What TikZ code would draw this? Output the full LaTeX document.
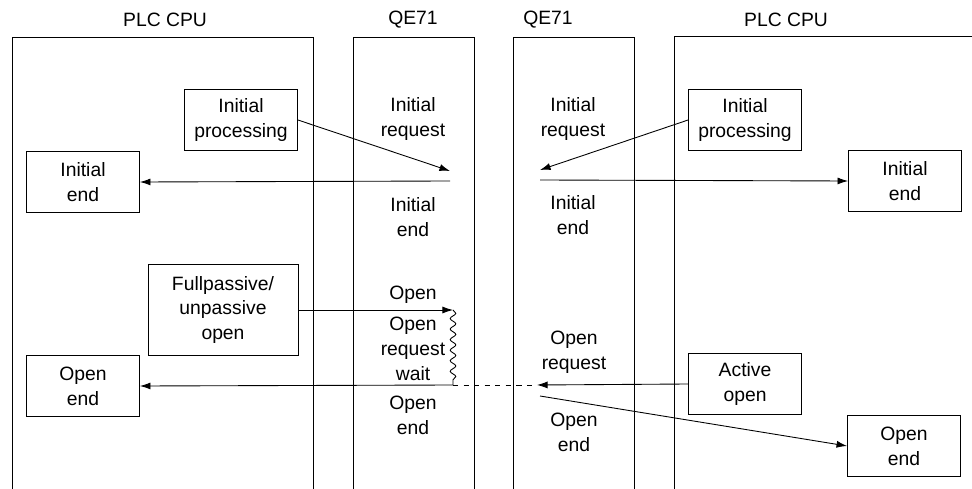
\documentclass[tikz,border=0pt]{standalone}
\usepackage{fontspec}
\setmainfont{Liberation Sans}
\usetikzlibrary{arrows.meta,calc,decorations.pathmorphing}

\begin{document}
\begin{tikzpicture}[x=0.02cm, y=-0.02cm, line width=0.5pt,
  every node/.style={font=\fontsize{11}{14.2}\selectfont, align=center},
  box/.style={draw, minimum width=2.26cm, minimum height=1.22cm, inner sep=1pt},
  lbl/.style={inner sep=0pt},
  >={Latex[length=6pt,width=4pt]}]

\useasboundingbox (0,0) rectangle (972,489);

% Corsie
\draw (12,489) -- (12,37) -- (313,37) -- (313,489);
\draw (353,489) -- (353,37) -- (474,37) -- (474,489);
\draw (513,489) -- (513,37) -- (634,37) -- (634,489);
\draw (674,489) -- (674,36) -- (972,36);

\node (hdrcpuL) at (165,20) {PLC CPU};
\node (hdrqeL)  at (413,20) {QE71};
\node (hdrqeR)  at (548,20) {QE71};
\node (hdrcpuR) at (786,20) {PLC CPU};

% Blocchi
\node[box] (initprocL) at (241,120) {Initial\\processing};
\node[box] (initendL)  at (83,182)  {Initial\\end};
\node[box] (initprocR) at (745,120) {Initial\\processing};
\node[box] (initendR)  at (905,181) {Initial\\end};
\node[box, minimum width=3cm, minimum height=1.82cm] (fpopen) at (223,310) {Fullpassive/\\unpassive\\open};
\node[box] (openendL)  at (83,386)  {Open\\end};
\node[box] (actopen)   at (745,384) {Active\\open};
\node[box] (openendR)  at (904,446) {Open\\end};

% Testi nei QE71
\node[lbl] (lirq) at (413,119) {Initial\\request};
\node[lbl] (lie)  at (413,217) {Initial\\end};
\node[lbl] (rirq) at (573,119) {Initial\\request};
\node[lbl] (rie)  at (573,215) {Initial\\end};
\node[lbl] (lop)  at (413,295) {Open};
\node[lbl] (lorw) at (413,349) {Open\\request\\wait};
\node[lbl] (loe)  at (413,415) {Open\\end};
\node[lbl] (rorq) at (574,352) {Open\\request};
\node[lbl] (roe)  at (574,432) {Open\\end};

% Punti di aggancio
\coordinate (irqL) at (450,171);
\coordinate (ieL)  at (450,181);
\coordinate (irqR) at (540,170);
\coordinate (ieR)  at (540,180);
\coordinate (opL)  at (453,310);
\coordinate (oeL)  at (453,385);
\coordinate (orqR) at (537,385);
\coordinate (oeR)  at (540,396);

% Frecce iniziali
\draw[->] (initprocL.east) -- (irqL);
\draw[->] (ieL) -- (initendL.east);
\draw[->] (initprocR.west) -- (irqR);
\draw[->] (ieR) -- (initendR.west);

% Frecce di apertura
\draw[->] (fpopen.east) -- (opL);
\draw[decorate, decoration={snake, amplitude=1.6pt, segment length=6pt}] (opL) -- (oeL);
\draw[->] (oeL) -- (openendL.east);
\draw[dashed] (oeL) -- (orqR);
\draw[->] (actopen.west) -- (orqR);
\draw[->] (oeR) -- (openendR.west);

\end{tikzpicture}
\end{document}
